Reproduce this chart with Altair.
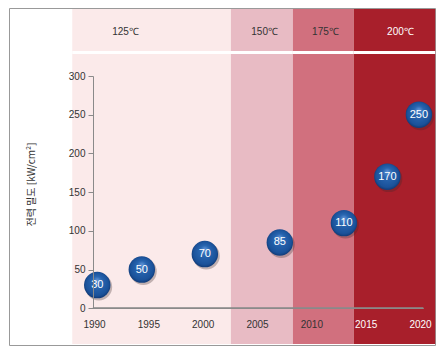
import altair as alt
import pandas as pd

# ---- data ----
years = [1990.3, 1994.4, 2000.2, 2007.1, 2013.0, 2017.0, 2019.9]
density = [30, 50, 70, 85, 110, 170, 250]

era_start = [1988.0, 2002.6, 2008.3, 2013.9]
era_end = [2002.6, 2008.3, 2013.9, 2021.4]
era_temp = ["125℃", "150℃", "175℃", "200℃"]
era_label_at = [1992.9, 2005.7, 2011.3, 2018.2]
era_colors = ["#FBEAEA", "#E8BBC4", "#D1707E", "#A81F2B"]

x_tick_years = [1990, 1995, 2000, 2005, 2010, 2015, 2020]
y_ticks = [0, 50, 100, 150, 200, 250, 300]
y_title = "전력 밀도 [kW/cm²]"

pts = pd.DataFrame({"year": years, "density": density})
eras = pd.DataFrame({"start": era_start, "end": era_end, "temp": era_temp,
                     "label_at": era_label_at})

FONT = "Liberation Sans"

xs = alt.Scale(domain=[1990, 2020], range=[85, 411], nice=False, zero=False)
ys = alt.Scale(domain=[0, 300], range=[300.3, 68], nice=False, zero=False)

x_axis = alt.Axis(values=x_tick_years, format="d", title=None, domain=False,
                  ticks=False, grid=False, labelPadding=11, offset=-36.7,
                  labelFont=FONT, labelFontSize=10, zindex=1, labelFlush=False,
                  labelColor={"expr": "datum.value >= 2015 ? '#ffffff' : '#333333'"})
y_axis = alt.Axis(values=y_ticks, title=y_title, grid=False, offset=-84,
                  tickSize=5, labelPadding=3, domainColor="#8a8a8a",
                  tickColor="#8a8a8a", labelFont=FONT, labelFontSize=10,
                  labelColor="#333333", zindex=1, labelFlush=False,
                  titleFont="Noto Sans CJK KR", titleFontSize=10,
                  titleFontWeight="normal", titleColor="#333333",
                  titleAngle=270, titleX=-61.5, titleY=176,
                  titleBaseline="middle", titleAlign="center")

color_scale = alt.Scale(domain=era_temp, range=era_colors)

bands = alt.Chart(eras).mark_rect().encode(
    x=alt.X("start:Q", scale=xs, axis=x_axis),
    x2="end:Q",
    y=alt.value(1), y2=alt.value(336),
    color=alt.Color("temp:N", scale=color_scale, legend=None),
)

separator = alt.Chart(eras).mark_rule(color="white", strokeWidth=3).encode(
    x=alt.X("start:Q", scale=xs, axis=x_axis),
    x2="end:Q",
    y=alt.value(44.5),
)

top_labels = alt.Chart(eras).mark_text(font=FONT, fontSize=10, baseline="middle").encode(
    x=alt.X("label_at:Q", scale=xs, axis=x_axis),
    y=alt.value(23.5),
    text="temp:N",
    color=alt.condition(alt.datum.temp == "200℃", alt.value("#ffffff"), alt.value("#333333")),
)

baseline = alt.Chart(pts).mark_rule(color="#8a8a8a", strokeWidth=1).encode(
    x=alt.X(datum=1989.9, scale=xs, axis=x_axis),
    x2=alt.X2(datum=2020.3),
    y=alt.Y(datum=0, scale=ys, axis=y_axis),
)

shadow = alt.Chart(pts).mark_circle(size=720, color="#3a2a2a", opacity=0.3,
                                    xOffset=1.5, yOffset=2).encode(
    x=alt.X("year:Q", scale=xs, axis=x_axis),
    y=alt.Y("density:Q", scale=ys, axis=y_axis),
)

grad = alt.RadialGradient(
    gradient="radial",
    stops=[alt.GradientStop(offset=0, color="#5f93d6"),
           alt.GradientStop(offset=0.35, color="#2865b0"),
           alt.GradientStop(offset=0.8, color="#1a5199"),
           alt.GradientStop(offset=1, color="#0c2f66")],
    x1=0.5, y1=0.3, r1=0, x2=0.5, y2=0.5, r2=0.55,
)

spheres = alt.Chart(pts).mark_circle(size=700, fill=grad, opacity=1, strokeWidth=0).encode(
    x=alt.X("year:Q", scale=xs, axis=x_axis),
    y=alt.Y("density:Q", scale=ys, axis=y_axis),
)

numbers = alt.Chart(pts).mark_text(font=FONT, fontSize=11, color="white",
                                   baseline="middle", align="center").encode(
    x=alt.X("year:Q", scale=xs, axis=x_axis),
    y=alt.Y("density:Q", scale=ys, axis=y_axis),
    text=alt.Text("density:Q"),
)

chart = alt.layer(bands, separator, top_labels, baseline, shadow, spheres, numbers).properties(
    width=426, height=337,
    padding={"left": 9, "top": 8, "right": 4, "bottom": 7},
    autosize="none",
    background="white",
).configure_view(stroke="#999999", strokeWidth=1)

chart.save("out.html", embed_options={"renderer": "svg", "actions": False})
